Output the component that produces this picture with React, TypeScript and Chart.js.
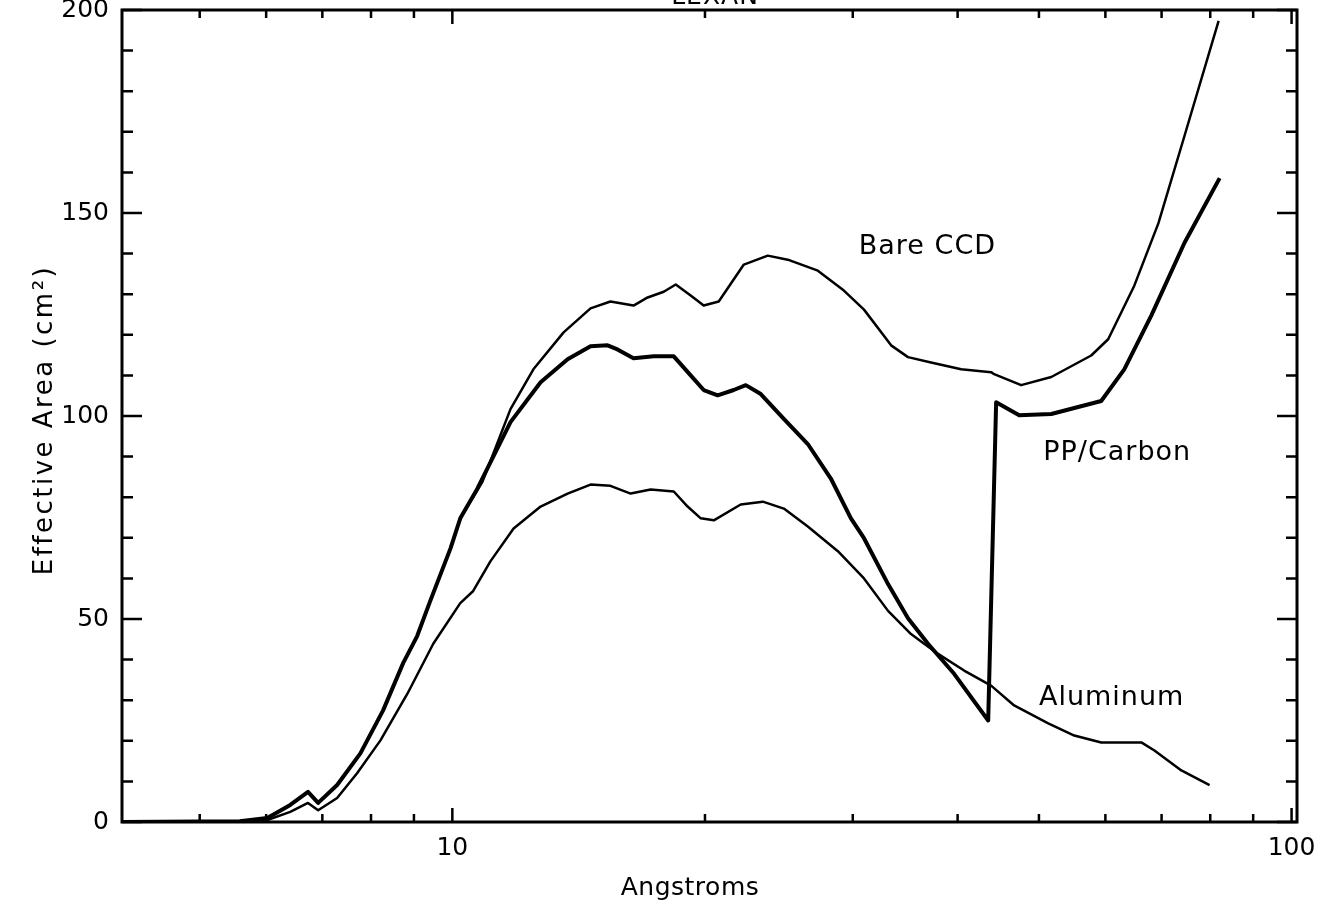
import React, { useEffect, useRef } from "react";
import { Chart, registerables } from "chart.js";

Chart.register(...registerables);

// ---- data ----
const bareX = [4.04, 5.58, 6.02, 6.41, 6.73, 6.92, 7.29, 7.77, 8.27, 8.74, 9.08, 9.41, 9.95, 10.22, 10.86, 11.73, 12.49, 13.57, 14.61, 15.43, 16.44, 17.09, 17.86, 18.46, 19.23, 19.93, 20.77, 22.25, 23.76, 25.1, 27.26, 29.28, 30.94, 33.33, 34.91, 37.19, 40.39, 43.85, 44.22, 47.62, 51.72, 57.71, 60.46, 64.95, 69.4, 74.52, 81.86];
const bareY = [0, 0.2, 1.0, 4.2, 7.4, 4.7, 9.1, 16.9, 27.5, 39.2, 45.8, 54.4, 67.4, 74.8, 83.8, 101.7, 111.5, 120.6, 126.5, 128.2, 127.2, 129.2, 130.6, 132.4, 129.7, 127.2, 128.2, 137.3, 139.5, 138.5, 135.8, 130.9, 126.2, 117.4, 114.5, 113.2, 111.5, 110.8, 110.3, 107.6, 109.6, 114.9, 118.9, 132.1, 147.5, 168.9, 197.3];

const ppX = [4.04, 5.58, 6.02, 6.41, 6.73, 6.92, 7.29, 7.77, 8.27, 8.74, 9.08, 9.41, 9.95, 10.22, 10.71, 11.73, 12.74, 13.72, 14.61, 15.31, 15.73, 16.44, 17.38, 18.36, 19.23, 19.93, 20.71, 21.64, 22.37, 23.31, 24.83, 26.52, 28.25, 29.85, 30.94, 33.05, 34.91, 36.88, 39.62, 43.5, 44.46, 47.36, 51.72, 59.32, 63.19, 68.07, 74.52, 82.09];
const ppY = [0, 0.2, 1.0, 4.2, 7.4, 4.7, 9.1, 16.9, 27.5, 39.2, 45.8, 54.4, 67.4, 74.8, 82.1, 98.5, 108.3, 114.0, 117.2, 117.4, 116.4, 114.2, 114.7, 114.7, 110.0, 106.4, 105.1, 106.4, 107.6, 105.4, 99.3, 93.1, 84.6, 74.8, 69.9, 58.6, 50.2, 43.9, 36.5, 25.0, 103.4, 100.2, 100.5, 103.7, 111.5, 124.8, 142.6, 158.6];

const alX = [4.04, 5.58, 6.02, 6.41, 6.73, 6.92, 7.29, 7.7, 8.21, 8.84, 9.49, 10.22, 10.59, 11.1, 11.83, 12.74, 13.72, 14.61, 15.43, 16.31, 17.23, 18.36, 19.07, 19.77, 20.49, 22.06, 23.44, 24.83, 26.52, 28.8, 30.94, 33.05, 35.2, 37.91, 40.72, 43.85, 46.71, 51.29, 55.09, 59.32, 66.22, 68.64, 73.91, 79.85];
const alY = [0, 0, 0.5, 2.5, 4.7, 2.9, 5.9, 12.0, 20.1, 31.6, 43.9, 53.9, 56.9, 64.2, 72.3, 77.7, 80.9, 83.1, 82.8, 80.9, 81.9, 81.4, 77.7, 74.8, 74.3, 78.2, 78.9, 77.2, 72.8, 66.7, 60.0, 52.0, 46.3, 41.4, 37.3, 33.6, 28.7, 24.3, 21.3, 19.6, 19.6, 17.6, 12.7, 9.1];

const seriesNames = ["Bare CCD", "PP/Carbon", "Aluminum"];
const seriesWidths = [2.5, 4, 2.5];
// where each curve label is written (data coordinates: x of left edge, y of centre)
const labelX = [30.5, 50.6, 50.0];
const labelY = [141.6, 90.9, 30.5];

const xMajorTicks = [10, 100];
const xMinorTicks = [5, 6, 7, 8, 9, 20, 30, 40, 50, 60, 70, 80, 90];
const yMajorTicks = [0, 50, 100, 150, 200];
const yMinorTicks = [10, 20, 30, 40, 60, 70, 80, 90, 110, 120, 130, 140, 160, 170, 180, 190];

const titleText = "LEXAN";
const xTitle = "Angstroms";
const yTitle = "Effective Area (cm²)";

const FONT = "'DejaVu Sans', 'Liberation Sans', sans-serif";

const framePlugin = {
  id: "frameAndTicks",
  afterDraw(chart: any) {
    const { ctx, chartArea } = chart;
    const xs = chart.scales.x;
    const ys = chart.scales.y;
    const { left, right, top, bottom } = chartArea;
    ctx.save();
    ctx.strokeStyle = "#000";
    ctx.lineCap = "butt";
    // frame
    ctx.lineWidth = 3;
    ctx.strokeRect(left, top, right - left, bottom - top);
    const drawX = (vals: number[], len: number) => {
      vals.forEach((v) => {
        const px = xs.getPixelForValue(v);
        ctx.beginPath();
        ctx.moveTo(px, bottom);
        ctx.lineTo(px, bottom - len);
        ctx.moveTo(px, top);
        ctx.lineTo(px, top + len);
        ctx.stroke();
      });
    };
    const drawY = (vals: number[], len: number) => {
      vals.forEach((v) => {
        const py = ys.getPixelForValue(v);
        ctx.beginPath();
        ctx.moveTo(left, py);
        ctx.lineTo(left + len, py);
        ctx.moveTo(right, py);
        ctx.lineTo(right - len, py);
        ctx.stroke();
      });
    };
    ctx.lineWidth = 2.5;
    drawX(xMajorTicks, 14);
    drawX(xMinorTicks, 8);
    drawY(yMajorTicks, 20);
    drawY(yMinorTicks, 11);

    ctx.fillStyle = "#000";
    // curve labels
    ctx.font = `27px ${FONT}`;
    (ctx as any).letterSpacing = "1px";
    ctx.textAlign = "left";
    ctx.textBaseline = "middle";
    seriesNames.forEach((name, i) => {
      ctx.fillText(name, xs.getPixelForValue(labelX[i]), ys.getPixelForValue(labelY[i]));
    });

    // axis titles
    ctx.font = `25px ${FONT}`;
    (ctx as any).letterSpacing = "0.5px";
    ctx.textAlign = "center";
    ctx.fillText(xTitle, 690, 888);
    ctx.save();
    ctx.font = `26px ${FONT}`;
    (ctx as any).letterSpacing = "2.5px";
    ctx.translate(45, 420);
    ctx.rotate(-Math.PI / 2);
    ctx.fillText(yTitle, 0, 0);
    ctx.restore();

    // clipped title at top
    (ctx as any).letterSpacing = "1px";
    ctx.textBaseline = "alphabetic";
    ctx.font = `25px ${FONT}`;
    ctx.fillText(titleText, 715, 4);
    ctx.restore();
  },
};

export default function App() {
  const ref = useRef<HTMLCanvasElement | null>(null);
  useEffect(() => {
    if (!ref.current) return;
    const mk = (xsArr: number[], ysArr: number[]) => xsArr.map((x, i) => ({ x, y: ysArr[i] }));
    const all = [mk(bareX, bareY), mk(ppX, ppY), mk(alX, alY)];
    const chart = new Chart(ref.current, {
      type: "line",
      data: {
        datasets: all.map((d, i) => ({
          label: seriesNames[i],
          data: d,
          borderColor: "#000",
          backgroundColor: "#000",
          borderWidth: seriesWidths[i],
          pointRadius: 0,
          tension: 0,
          fill: false,
          borderJoinStyle: "round",
        })),
      },
      options: {
        animation: false,
        responsive: false,
        devicePixelRatio: 1,
        layout: { padding: { top: 10, right: 34, left: 0, bottom: 0 } },
        plugins: { legend: { display: false }, tooltip: { enabled: false }, title: { display: false } },
        scales: {
          x: {
            type: "logarithmic",
            min: 4.04,
            max: 101.5,
            grid: { display: false, drawTicks: false },
            border: { display: false },
            afterBuildTicks: (s: any) => {
              s.ticks = xMajorTicks.map((v) => ({ value: v }));
            },
            afterFit: (s: any) => {
              s.height = 95;
              s.paddingLeft = 0;
              s.paddingRight = 0;
            },
            ticks: {
              autoSkip: false,
              maxRotation: 0,
              padding: 11,
              color: "#000",
              font: { family: FONT, size: 25 },
              callback: (v: any) => String(v),
            },
          },
          y: {
            type: "linear",
            min: 0,
            max: 200,
            grid: { display: false, drawTicks: false },
            border: { display: false },
            afterBuildTicks: (s: any) => {
              s.ticks = yMajorTicks.map((v) => ({ value: v }));
            },
            afterFit: (s: any) => {
              s.width = 122;
              s.paddingTop = 0;
              s.paddingBottom = 0;
            },
            ticks: {
              padding: 13,
              color: "#000",
              font: { family: FONT, size: 25 },
              callback: (v: any) => String(v),
            },
          },
        },
      },
      plugins: [framePlugin],
    } as any);
    return () => chart.destroy();
  }, []);
  return (
    <div style={{ position: "absolute", left: 0, top: 0, width: 1331, height: 917, background: "#fff" }}>
      <canvas ref={ref} width={1331} height={917} />
    </div>
  );
}
